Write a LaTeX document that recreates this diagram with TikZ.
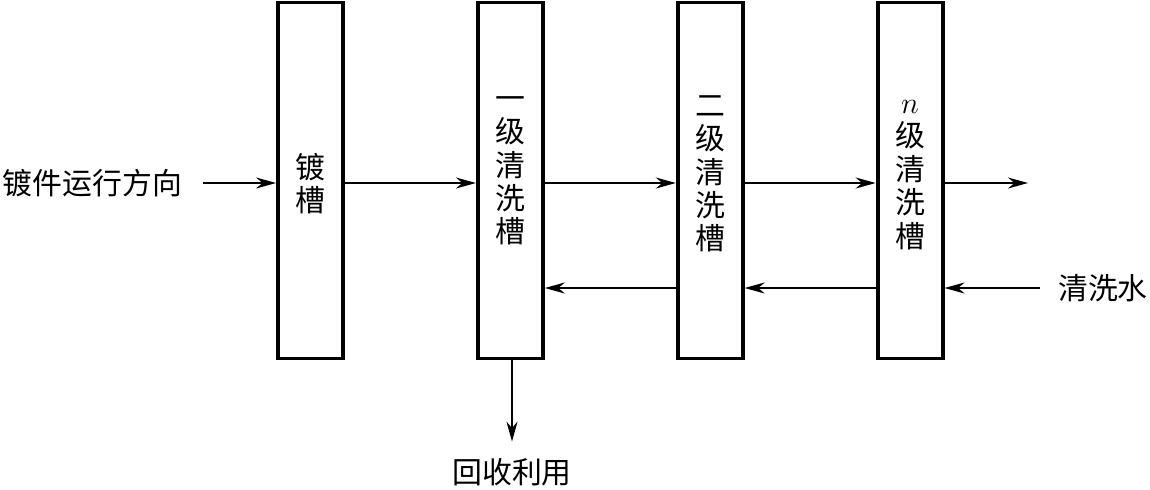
\documentclass[tikz,border=0pt]{standalone}
\usepackage{fontspec}
\newfontfamily\cjk{Noto Sans CJK SC}
\usetikzlibrary{positioning, arrows.meta}

\begin{document}
\begin{tikzpicture}[
  node distance=0cm and 2.62cm,
  every node/.style={font=\cjk\fontsize{17}{19}\selectfont, align=center, inner sep=1pt},
  tank/.style={draw, rectangle, line width=2.2pt, minimum width=1.3cm, minimum height=7.12cm, inner sep=0pt},
  arrow/.style={-{Stealth[length=4mm, width=2.2mm]}, line width=1.2pt}
]
\useasboundingbox (0,0) rectangle (23,-9.78);

% Tanks
\node[tank] (plate) at (6.21,-3.61) {};
\node[tank] (rinse1) [right=of plate] {};
\node[tank] (rinse2) [right=of rinse1] {};
\node[tank] (rinseN) [right=of rinse2] {};

% Tank labels
\node (plate_txt) at ([yshift=-0.06cm]plate.center) {镀\\槽};
\node (rinse1_txt) at ([yshift=0.19cm]rinse1.center) {一\\级\\清\\洗\\槽};
\node (rinse2_txt) at ([yshift=0.13cm]rinse2.center) {二\\级\\清\\洗\\槽};
\node (rinseN_txt) at ([yshift=0.11cm]rinseN.center) {$n$\\级\\清\\洗\\槽};

% Outer texts
\node (work) at (1.85,-3.66) {镀件运行方向};
\node (water) at (22.06,-5.76) {清洗水};
\node (recycle) at (10.24,-9.45) {回收利用};
\coordinate (out) at (20.56,-3.66);

% Work piece direction
\draw[arrow] ([xshift=0.38cm]work.east) -- (work.east -| plate.west);
\draw[arrow] (work.east -| plate.east) -- (work.east -| rinse1.west);
\draw[arrow] (work.east -| rinse1.east) -- (work.east -| rinse2.west);
\draw[arrow] (work.east -| rinse2.east) -- (work.east -| rinseN.west);
\draw[arrow] (work.east -| rinseN.east) -- (out);

% Rinse water (counter flow)
\draw[arrow] ([xshift=-0.32cm]water.west) -- (water.west -| rinseN.east);
\draw[arrow] (water.west -| rinseN.west) -- (water.west -| rinse2.east);
\draw[arrow] (water.west -| rinse2.west) -- (water.west -| rinse1.east);

% Recovery
\draw[arrow] (rinse1.south -| recycle.north) -- ([yshift=0.3cm]recycle.north);

\end{tikzpicture}
\end{document}
